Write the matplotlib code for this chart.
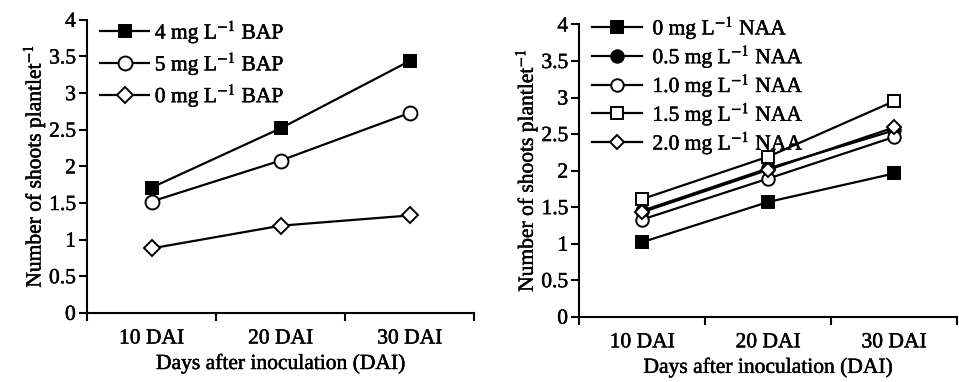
import matplotlib
matplotlib.use("Agg")
import matplotlib.pyplot as plt
import matplotlib.patheffects as pe

plt.rcParams["font.family"] = ["Liberation Serif", "DejaVu Serif"]
plt.rcParams["mathtext.fontset"] = "stix"

days = ["10 DAI", "20 DAI", "30 DAI"]

# left panel: BAP
bap_labels = ["4 mg L$^{-1}$ BAP", "5 mg L$^{-1}$ BAP", "0 mg L$^{-1}$ BAP"]
bap_4 = [1.71, 2.52, 3.44]
bap_5 = [1.52, 2.08, 2.73]
bap_0 = [0.88, 1.19, 1.33]

# right panel: NAA
naa_labels = ["0 mg L$^{-1}$ NAA", "0.5 mg L$^{-1}$ NAA", "1.0 mg L$^{-1}$ NAA",
              "1.5 mg L$^{-1}$ NAA", "2.0 mg L$^{-1}$ NAA"]
naa_0 = [1.02, 1.57, 1.96]
naa_05 = [1.45, 2.03, 2.55]
naa_10 = [1.33, 1.89, 2.46]
naa_15 = [1.61, 2.19, 2.95]
naa_20 = [1.43, 2.01, 2.59]

FS = 15.5
# the scanned figure's text is a little heavier than plain regular
THICK = [pe.withStroke(linewidth=0.35, foreground="black")]


def style_axis(ax):
    ax.set_xlim(0.5, 3.5)
    ax.set_ylim(0, 4)
    ax.set_yticks([0, 0.5, 1, 1.5, 2, 2.5, 3, 3.5, 4])
    ax.set_yticklabels(["0", "0.5", "1", "1.5", "2", "2.5", "3", "3.5", "4"])
    # ticks at category boundaries, labels at centres
    ax.set_xticks([0.5, 1.5, 2.5, 3.5])
    ax.set_xticklabels([])
    ax.set_xticks([1, 2, 3], minor=True)
    ax.set_xticklabels(days, minor=True)
    ax.tick_params(axis="x", which="minor", length=0, pad=12, labelsize=FS)
    ax.tick_params(axis="x", which="major", length=6, width=1.5, direction="out")
    ax.tick_params(axis="y", length=6, width=1.5, direction="out", labelsize=FS, pad=2)
    for s in ("top", "right"):
        ax.spines[s].set_visible(False)
    for s in ("left", "bottom"):
        ax.spines[s].set_linewidth(1.5)
    ax.set_xlabel("Days after inoculation (DAI)", fontsize=FS, labelpad=4)
    ax.set_ylabel("Number of shoots plantlet$^{-1}$", fontsize=FS, labelpad=1)


fig = plt.figure(figsize=(9.59, 3.82), dpi=100)
ax1 = fig.add_axes([0.0907, 0.181, 0.404, 0.767])
ax2 = fig.add_axes([0.604, 0.171, 0.394, 0.765])

x = [1, 2, 3]
kw = dict(color="black", lw=1.6, markeredgecolor="black", markeredgewidth=1.4)

ax1.plot(x, bap_4, marker="s", ms=9, markerfacecolor="black", label=bap_labels[0], **kw)
ax1.plot(x, bap_5, marker="o", ms=10, markerfacecolor="white", label=bap_labels[1], **kw)
ax1.plot(x, bap_0, marker="D", ms=8, markerfacecolor="white", label=bap_labels[2], **kw)
style_axis(ax1)
ax1.legend(loc="upper left", bbox_to_anchor=(0.0, 1.05), frameon=False, fontsize=FS,
           handlelength=2.3, handletextpad=0.25, labelspacing=0.2, borderaxespad=0.2)

ax2.plot(x, naa_0, marker="s", ms=8, markerfacecolor="black", label=naa_labels[0], **kw)
ax2.plot(x, naa_05, marker="o", ms=9, markerfacecolor="black", label=naa_labels[1], **kw)
ax2.plot(x, naa_10, marker="o", ms=9, markerfacecolor="white", label=naa_labels[2], **kw)
ax2.plot(x, naa_15, marker="s", ms=8, markerfacecolor="white", label=naa_labels[3], **kw)
ax2.plot(x, naa_20, marker="D", ms=7, markerfacecolor="white", label=naa_labels[4], **kw)
style_axis(ax2)
ax2.legend(loc="upper left", bbox_to_anchor=(0.0, 1.08), frameon=False, fontsize=FS,
           handlelength=2.3, handletextpad=0.5, labelspacing=0.06, borderaxespad=0.2)

for t in fig.findobj(matplotlib.text.Text):
    t.set_path_effects(THICK)

fig.savefig("out.png", dpi=100)
